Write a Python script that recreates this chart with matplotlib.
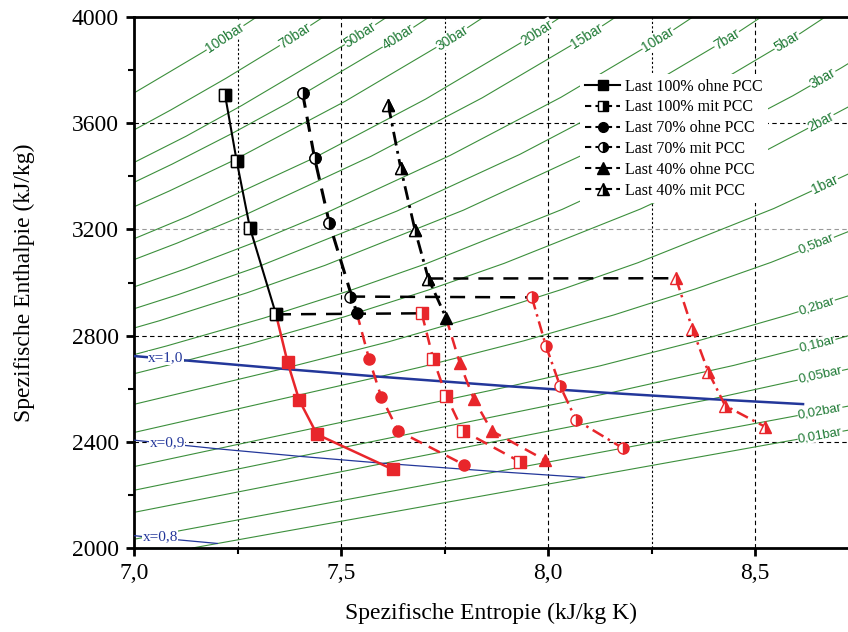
import numpy as np
import matplotlib
matplotlib.use("Agg")
import matplotlib.pyplot as plt
from matplotlib.lines import Line2D

# ---- Messpunkte (s in kJ/kgK, h in kJ/kg) ----
# Last 100 %
s100_hd = [7.220, 7.248, 7.280, 7.343]
h100_hd = [3706, 3458, 3206, 2880]
s100_ohne = [7.371, 7.399, 7.442, 7.625]
h100_ohne = [2699, 2557, 2428, 2296]
s100_mit = [7.695, 7.723, 7.754, 7.794, 7.932]
h100_mit = [2884, 2711, 2573, 2442, 2325]

# Last 70 %
s70_hd = [7.407, 7.436, 7.472, 7.522]
h70_hd = [3715, 3470, 3223, 2947]
s70_hd_ende = 7.538
h70_hd_ende = 2886
s70_ohne = [7.568, 7.597, 7.638, 7.798]
h70_ohne = [2711, 2570, 2441, 2313]
s70_mit = [7.961, 7.995, 8.029, 8.068, 8.182]
h70_mit = [2944, 2761, 2611, 2482, 2375]

# Last 40 %
s40_hd = [7.614, 7.644, 7.679, 7.711]
h40_hd = [3670, 3433, 3196, 3015]
s40_hd_ende = 7.754
h40_hd_ende = 2866
s40_ohne = [7.787, 7.821, 7.864, 7.993]
h40_ohne = [2696, 2560, 2441, 2331]
s40_mit = [8.309, 8.349, 8.387, 8.428, 8.524]
h40_mit = [3016, 2824, 2664, 2536, 2457]

# ---- Isobaren (Stuetzpunkte s, h) ----
iso_namen = ["100bar", "70bar", "50bar", "40bar", "30bar", "20bar", "15bar", "10bar",
             "7bar", "5bar", "3bar", "2bar", "1bar", "0,5bar", "0,2bar", "0,1bar",
             "0,05bar", "0,02bar", "0,01bar"]
iso_s = [
    [6.9045, 7.0373, 7.1696, 7.4085],
    [6.9486, 7.0894, 7.2221, 7.3476, 7.5822],
    [6.8210, 6.9781, 7.1258, 7.2605, 7.5136, 7.7458],
    [6.7714, 6.9386, 7.0922, 7.2355, 7.3706, 7.6214, 7.8523],
    [6.7450, 6.9235, 7.0856, 7.2359, 7.5103, 7.7590, 7.9885],
    [6.7684, 6.9583, 7.1292, 7.4337, 7.7043, 7.9509, 8.1791],
    [6.9198, 7.1035, 7.2708, 7.5718, 7.8410, 8.0870, 8.3148],
    [6.9265, 7.1246, 7.3029, 7.4670, 7.7642, 8.0311, 8.2755, 8.5024],
    [6.8880, 7.1060, 7.2997, 7.6350, 7.9316, 8.1981, 8.4420, 8.6690],
    [6.8207, 7.0610, 7.2725, 7.4614, 7.7956, 8.0893, 8.3544, 8.5978, 8.8240],
    [6.9917, 7.0792, 7.3132, 7.5180, 7.7037, 8.0347, 8.3271, 8.5915, 8.7090, 8.8220],
    [7.0, 7.1269, 7.2810, 7.5081, 7.7100, 7.8941, 8.2236, 8.5152, 8.7770],
    [7.0, 7.3588, 7.6148, 7.8356, 8.0346, 8.2172, 8.5452, 8.8361],
    [7.0, 7.5930, 7.6953, 7.9413, 8.1592, 8.3568, 8.5386, 8.8659],
    [7.0, 7.9074, 8.1261, 8.3674, 8.5839, 8.7804],
    [7.0, 8.1488, 8.4479, 8.6882, 8.9038],
    [7.0, 8.3938, 8.7678, 9.0080],
    [7.0, 8.7226, 8.8000],
    [7.141, 8.8000],
]
iso_h = [
    [3625.8, 3748.1, 3870.5, 4114.5],
    [3530.9, 3650.3, 3769.1, 3888.3, 4127.0],
    [3317.2, 3434.7, 3550.9, 3666.9, 3900.3, 4137.7],
    [3214.5, 3331.2, 3446.0, 3560.3, 3674.9, 3906.3, 4142.3],
    [3116.1, 3231.7, 3344.9, 3456.4, 3682.8, 3912.2, 4146.9],
    [3024.2, 3137.7, 3248.4, 3468.3, 3690.7, 3918.2, 4151.5],
    [3038.2, 3148.0, 3256.5, 3474.8, 3695.5, 3921.7, 4154.1],
    [2943.1, 3051.6, 3158.2, 3264.5, 3479.1, 3697.4, 3923.3, 4157.0],
    [2845.0, 2954.0, 3059.4, 3269.0, 3482.3, 3700.1, 3925.0, 4158.0],
    [2748.1, 2855.8, 2961.0, 3064.6, 3272.4, 3484.5, 3701.5, 3926.4, 4159.0],
    [2724.9, 2761.2, 2865.9, 2967.9, 3069.6, 3275.7, 3486.6, 3703.4, 3809.0, 3917.0],
    [2656.3, 2706.2, 2769.1, 2870.7, 2971.2, 3072.1, 3277.0, 3487.7, 3704.0],
    [2541.1, 2674.9, 2776.6, 2875.5, 2974.5, 3074.5, 3278.5, 3488.7],
    [2435.0, 2645.2, 2682.4, 2780.2, 2877.9, 2976.2, 3075.8, 3278.9],
    [2306.6, 2608.9, 2686.2, 2782.6, 2879.6, 2977.1],
    [2217.4, 2583.9, 2687.5, 2783.0, 2879.5],
    [2134.2, 2560.7, 2688.5, 2783.5],
    [2032.9, 2533.6, 2556.0],
    [2000.0, 2464.7],
]
# Lage der Beschriftung (s-Wert der Textmitte bzw. des Textanfangs)
iso_lab_s = [7.220, 7.389, 7.546, 7.638, 7.768, 7.973, 8.094, 8.266, 8.432, 8.577,
             8.664, 8.659, 8.669, 8.606, 8.606, 8.606, 8.604, 8.604, 8.604]

# ---- Dampfgehalt-Linien ----
x10_s = [7.0, 7.1269, 7.3588, 7.5930, 7.9074, 8.1488, 8.3938, 8.616]
x10_h = [2723, 2706.2, 2674.9, 2645.2, 2608.9, 2583.9, 2560.7, 2542]
x09_s = [6.943, 7.200, 7.400, 7.602, 7.877, 8.088]
x09_h = [2415.4, 2373.9, 2345.3, 2319.1, 2287.6, 2265.7]
x08_s = [6.810, 7.031, 7.201]
x08_h = [2076.8, 2041.6, 2017.2]

rot = "#e8262b"
gruen = "#3c8f3c"
blau = "#23379a"

plt.rcParams["font.family"] = ["Liberation Serif", "DejaVu Serif"]

fig = plt.figure(figsize=(8.48, 6.32), dpi=100)
ax = fig.add_axes([134 / 848, 1 - 548 / 632, 1 - 134 / 848, 531 / 632])
ax.set_xlim(7.0, 8.7246)
ax.set_ylim(2000, 4000)

# Gitter
for xv in [7.25, 7.75, 8.25]:
    ax.axvline(xv, color="black", lw=0.8, ls=(0, (2, 2)), zorder=1)
for xv in [7.5, 8.0, 8.5]:
    ax.axvline(xv, color="black", lw=0.8, ls=(0, (4, 3)), zorder=1)
for yv in [2400, 2800, 3600]:
    ax.axhline(yv, color="black", lw=0.8, ls=(0, (4, 3)), zorder=1)
ax.axhline(3200, color="#999999", lw=0.8, ls=(0, (4, 3)), zorder=1)

# Isobaren
for i in range(len(iso_namen)):
    ax.plot(iso_s[i], iso_h[i], color=gruen, lw=0.8, zorder=2)
    sl = iso_lab_s[i]
    hl = np.interp(sl, iso_s[i], iso_h[i])
    dh = np.interp(sl + 0.03, iso_s[i], iso_h[i]) - np.interp(sl - 0.03, iso_s[i], iso_h[i])
    winkel = np.degrees(np.arctan2(dh, 0.06))
    if i >= 13:
        ha, fs = "left", 9.5
    else:
        ha, fs = "center", 10
    ax.text(sl, hl, iso_namen[i], color="#1f7a35", fontsize=fs, family="Liberation Sans",
            rotation=winkel, transform_rotates_text=True, rotation_mode="anchor",
            ha=ha, va="center", zorder=3,
            bbox=dict(facecolor="white", edgecolor="none", pad=0.3))

# Dampfgehalt
ax.plot(x10_s, x10_h, color=blau, lw=1.8, zorder=3)
ax.plot(x09_s, x09_h, color=blau, lw=0.9, zorder=3)
ax.plot(x08_s, x08_h, color=blau, lw=0.9, zorder=3)
for s, h, t in [(7.077, 2716, "x=1,0"), (7.080, 2397, "x=0,9"), (7.063, 2041, "x=0,8")]:
    ax.text(s, h, t, color=blau, fontsize=11, ha="center", va="center", zorder=4,
            bbox=dict(facecolor="white", edgecolor="none", pad=0.2))

ms = 8
strich = (0, (5, 3))
strich_punkt = (0, (5, 2, 1, 2))

# Hochdruckteil, ohne PCC (gefuellt)
ax.plot(s100_hd, h100_hd, color="black", lw=1.5, marker="s", ms=ms, mfc="black", mec="black", zorder=5)
ax.plot(s70_hd[:-1] + [s70_hd_ende], h70_hd[:-1] + [h70_hd_ende], color="black", lw=2.2,
        ls=strich, marker="o", ms=ms, mfc="black", mec="black", zorder=5)
ax.plot(s40_hd + [s40_hd_ende], h40_hd + [h40_hd_ende], color="black", lw=2.0,
        ls=strich_punkt, marker="^", ms=ms + 1, mfc="black", mec="black", zorder=5)

# Verbindungen zu den mit-PCC-Punkten
ax.plot([s100_hd[-1], s100_mit[0]], [h100_hd[-1], h100_mit[0]], color="black", lw=1.8, ls=(0, (6, 4)), zorder=4)
ax.plot([s70_hd[-1], s70_mit[0]], [h70_hd[-1], h70_mit[0]], color="black", lw=1.8, ls=(0, (6, 4)), zorder=4)
ax.plot([s40_hd[-1], s40_mit[0]], [h40_hd[-1], h40_mit[0]], color="black", lw=1.8, ls=(0, (6, 4)), zorder=4)

# Niederdruckteil ohne PCC
ax.plot([s100_hd[-1]] + s100_ohne, [h100_hd[-1]] + h100_ohne, color=rot, lw=1.8, zorder=4)
ax.plot(s100_ohne, h100_ohne, ls="none", marker="s", ms=ms, color=rot, zorder=6)
ax.plot([s70_hd_ende] + s70_ohne, [h70_hd_ende] + h70_ohne, color=rot, lw=1.8, ls=strich, zorder=4)
ax.plot(s70_ohne, h70_ohne, ls="none", marker="o", ms=ms, color=rot, zorder=6)
ax.plot([s40_hd_ende] + s40_ohne, [h40_hd_ende] + h40_ohne, color=rot, lw=1.8, ls=strich, zorder=4)
ax.plot(s40_ohne, h40_ohne, ls="none", marker="^", ms=ms + 1, color=rot, zorder=6)

# Niederdruckteil mit PCC
ax.plot(s100_mit, h100_mit, color=rot, lw=1.8, ls=strich, marker="s", ms=ms, mec=rot,
        mfc=rot, mfcalt="white", fillstyle="right", zorder=6)
ax.plot(s70_mit, h70_mit, color=rot, lw=1.8, ls=strich_punkt, marker="o", ms=ms, mec=rot,
        mfc=rot, mfcalt="white", fillstyle="right", zorder=6)
ax.plot(s40_mit, h40_mit, color=rot, lw=1.8, ls=strich_punkt, marker="^", ms=ms + 1, mec=rot,
        mfc=rot, mfcalt="white", fillstyle="right", zorder=6)

# Hochdruckteil mit PCC (halb gefuellt)
ax.plot(s100_hd, h100_hd, ls="none", marker="s", ms=ms, mec="black", mfc="black",
        mfcalt="white", fillstyle="right", zorder=7)
ax.plot(s70_hd, h70_hd, ls="none", marker="o", ms=ms, mec="black", mfc="black",
        mfcalt="white", fillstyle="right", zorder=7)
ax.plot(s40_hd, h40_hd, ls="none", marker="^", ms=ms + 1, mec="black", mfc="black",
        mfcalt="white", fillstyle="right", zorder=7)

# Legende
griffe = [
    Line2D([], [], color="black", lw=1.5, marker="s", ms=7),
    Line2D([], [], color="black", lw=1.5, ls=(0, (3, 2)), marker="s", ms=7, mfc="black", mfcalt="white", fillstyle="right"),
    Line2D([], [], color="black", lw=1.5, ls=(0, (3, 2)), marker="o", ms=7),
    Line2D([], [], color="black", lw=1.5, ls=(0, (3, 2)), marker="o", ms=7, mfc="black", mfcalt="white", fillstyle="right"),
    Line2D([], [], color="black", lw=1.5, ls=(0, (3, 2)), marker="^", ms=8),
    Line2D([], [], color="black", lw=1.5, ls=(0, (3, 2)), marker="^", ms=8, mfc="black", mfcalt="white", fillstyle="right"),
]
texte = ["Last 100% ohne PCC", "Last 100% mit PCC", "Last 70% ohne PCC",
         "Last 70% mit PCC", "Last 40% ohne PCC", "Last 40% mit PCC"]
leg = ax.legend(griffe, texte, loc="upper left", bbox_to_anchor=(0.614, 0.908), fontsize=11.5,
                frameon=True, handlelength=2.2, handletextpad=0.3, labelspacing=0.3,
                borderpad=0.3, fancybox=False)
leg.get_frame().set_edgecolor("none")
leg.get_frame().set_facecolor("white")
leg.get_frame().set_alpha(1)
leg.set_zorder(10)

# Achsen
ax.set_xticks([7.0, 7.5, 8.0, 8.5])
ax.set_xticklabels(["7,0", "7,5", "8,0", "8,5"])
ax.set_xticks([7.25, 7.75, 8.25], minor=True)
ax.set_yticks([2000, 2400, 2800, 3200, 3600, 4000])
ax.set_yticks(np.arange(2200, 4000, 400), minor=True)
ax.tick_params(which="major", direction="out", length=6, width=2, labelsize=17, pad=5)
ax.tick_params(which="minor", direction="out", length=4, width=1.5)
for sp in ["left", "bottom", "top"]:
    ax.spines[sp].set_linewidth(2)
ax.spines["right"].set_visible(False)

ax.set_xlabel("Spezifische Entropie (kJ/kg K)", fontsize=17, labelpad=13)
ax.set_ylabel("Spezifische Enthalpie (kJ/kg)", fontsize=17, labelpad=26)

fig.savefig("out.png", dpi=100)
